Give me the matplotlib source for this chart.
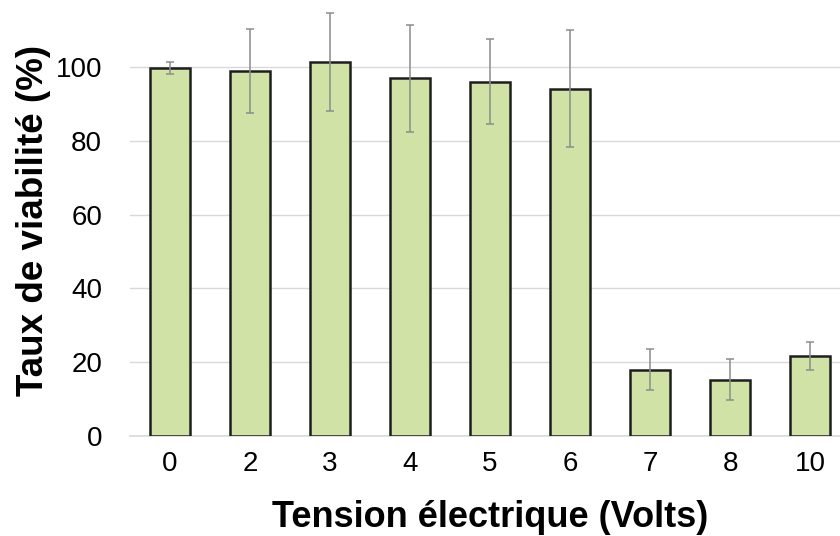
import numpy as np
import matplotlib
matplotlib.use("Agg")
import matplotlib.pyplot as plt

# Viabilité cellulaire en fonction de la tension appliquée
tensions = ['0', '2', '3', '4', '5', '6', '7', '8', '10']
viabilite = [99.8, 99.0, 101.3, 97.0, 96.0, 94.1, 18.0, 15.3, 21.7]
ecart_type = [1.6, 11.4, 13.2, 14.5, 11.5, 15.8, 5.5, 5.6, 3.7]

plt.rcParams['font.family'] = ['Liberation Sans', 'DejaVu Sans']

fig = plt.figure(figsize=(8.4, 5.36), dpi=100)
ax = fig.add_axes([130 / 840, 100 / 536, 720 / 840, 436 / 536])

x = np.arange(len(tensions))
ax.bar(x, viabilite, width=0.5, color='#d0e2a6', edgecolor='#1e1e1e',
       linewidth=1.8, zorder=3)
ax.errorbar(x, viabilite, yerr=ecart_type, fmt='none', ecolor='#8c8c8c',
            elinewidth=1.1, capsize=3.2, capthick=1.1, zorder=4)

ax.set_xlim(-0.5, len(tensions) - 0.5)
ax.set_ylim(0, 436 / 3.69)
ax.set_yticks(range(0, 101, 20))
ax.set_xticks(x)
ax.set_xticklabels(tensions)
ax.tick_params(axis='both', length=0, labelsize=20, colors='#000000')
ax.tick_params(axis='y', pad=20)
ax.tick_params(axis='x', pad=11)

ax.grid(axis='y', color='#d9d9d9', linewidth=1, zorder=0)
for side in ['top', 'right', 'left']:
    ax.spines[side].set_visible(False)
ax.spines['bottom'].set_color('#d9d9d9')
ax.spines['bottom'].set_linewidth(1.2)

fig.text(34 / 840, 1 - 220 / 536, 'Taux de viabilité (%)', rotation=90,
         ha='center', va='center', fontsize=26.5, fontweight='bold')
fig.text(490 / 840, 1 - 527 / 536, 'Tension électrique (Volts)',
         ha='center', va='baseline', fontsize=26, fontweight='bold')

fig.savefig('out.png', dpi=100)
